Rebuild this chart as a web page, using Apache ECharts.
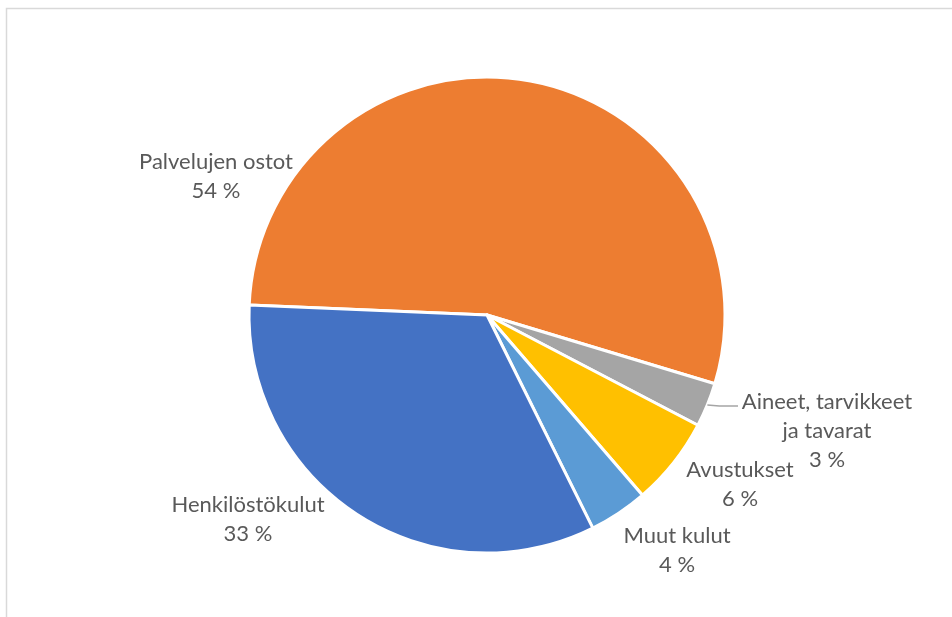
<!DOCTYPE html>
<html>
<head>
<meta charset="utf-8">
<script src="https://cdn.jsdelivr.net/npm/echarts@6/dist/echarts.min.js"></script>
<style>
html, body { margin: 0; padding: 0; background: #fff; }
#chart { width: 952px; height: 617px; }
</style>
</head>
<body>
<div id="chart"></div>
<script>
// kuluerät myötäpäivään alkaen vasemmalta
const categories = ['Palvelujen ostot', 'Aineet, tarvikkeet\nja tavarat', 'Avustukset', 'Muut kulut', 'Henkilöstökulut']
const values = [54, 3, 6, 4, 33]
const colors = ['#ED7D31', '#A5A5A5', '#FFC000', '#5B9BD5', '#4472C4']
// tekstien paikat (keskipiste)
const labelPos = [[216, 176], [827, 431], [740, 484], [677, 550], [248, 519]]

const center = [487, 315]
const radius = 238
const startAngle = 177.6

// viivan alku: harmaan sektorin keskikulma kaaren reunalla
const total = values.reduce((a, b) => a + b, 0)
const before = values[0]
const midAngle = (startAngle - (before + values[1] / 2) / total * 360) * Math.PI / 180
const edge = [center[0] + radius * Math.cos(midAngle), center[1] - radius * Math.sin(midAngle)]

const chart = echarts.init(document.getElementById('chart'))
const option = {
  animation: false,
  graphic: [
    {
      type: 'rect',
      shape: { x: 6.5, y: 8.5, width: 1000, height: 700 },
      style: { fill: 'none', stroke: '#D9D9D9', lineWidth: 1.5 },
      silent: true
    },
    {
      type: 'polyline',
      shape: { points: [edge, [edge[0] + 12, edge[1] + 1], [738, edge[1] + 1]] },
      style: { fill: 'none', stroke: '#A5A5A5', lineWidth: 1.5 },
      z: 10,
      silent: true
    }
  ],
  series: [
    {
      type: 'pie',
      center: center,
      radius: radius,
      startAngle: startAngle,
      clockwise: true,
      percentPrecision: 0,
      itemStyle: {
        borderColor: '#fff',
        borderWidth: 3
      },
      label: {
        show: true,
        formatter: '{b}\n{d} %',
        color: '#595959',
        fontFamily: 'Lato',
        fontSize: 22,
        lineHeight: 29,
        align: 'center'
      },
      labelLine: {
        show: false
      },
      labelLayout: (params) => {
        const p = labelPos[params.dataIndex]
        return { x: p[0], y: p[1], align: 'center', verticalAlign: 'middle' }
      },
      data: categories.map((name, i) => ({
        name: name,
        value: values[i],
        itemStyle: { color: colors[i] }
      }))
    }
  ]
}
chart.setOption(option)
</script>
</body>
</html>
